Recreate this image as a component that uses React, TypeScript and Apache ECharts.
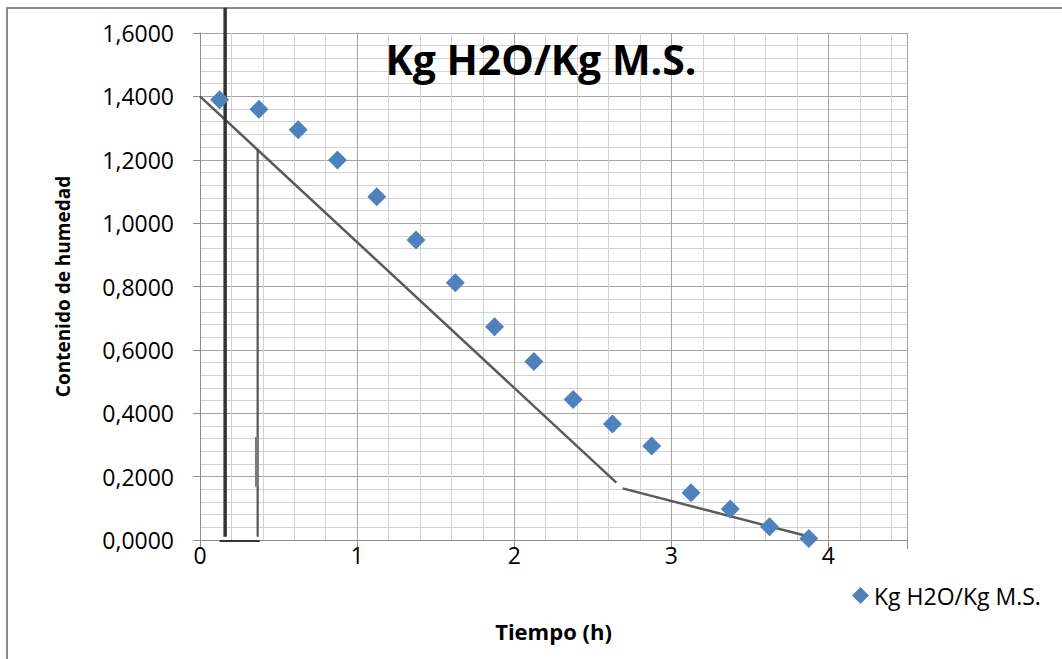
import React, { useEffect, useRef } from "react";
import * as echarts from "echarts";

const tiempo = [0.125, 0.375, 0.625, 0.875, 1.125, 1.375, 1.625, 1.875, 2.125, 2.375, 2.625, 2.875, 3.125, 3.375, 3.625, 3.875];
const humedad = [1.389, 1.359, 1.295, 1.199, 1.083, 0.947, 0.812, 0.673, 0.563, 0.443, 0.366, 0.297, 0.149, 0.098, 0.042, 0.005];

const lineaDescenso1 = [[0, 1.4], [2.65, 0.181]];
const lineaDescenso2 = [[2.69, 0.163], [3.85, 0.014]];
const verticalA = [[0.16, 1.68], [0.16, 0.01]];
const verticalB = [[0.367, 1.235], [0.367, 0.01]];
const verticalBGrueso = [[0.361, 0.325], [0.361, 0.168]];
const horizontalBase = [[0.125, -0.003], [0.38, -0.003]];

const yTicks = [0, 0.2, 0.4, 0.6, 0.8, 1.0, 1.2, 1.4, 1.6];
const xTicks = [0, 1, 2, 3, 4];

const seriesName = "Kg H2O/Kg M.S.";
const titleText = "Kg H2O/Kg M.S.";
const font = "'Open Sans', Lato, 'DejaVu Sans', sans-serif";

export default function App() {
  const ref = useRef<HTMLDivElement>(null);
  useEffect(() => {
    document.body.style.margin = "0";
    const chart = echarts.init(ref.current!, undefined, { renderer: "svg" });
    const lineStyleSeries = (name: string, data: number[][], color: string, width: number, z = 3) => ({
      name,
      type: "line",
      data,
      showSymbol: false,
      symbol: "none",
      clip: false,
      z,
      lineStyle: { color, width },
      silent: true,
      xAxisIndex: 1,
      yAxisIndex: 1,
    });
    chart.setOption({
      animation: false,
      backgroundColor: "#ffffff",
      textStyle: { fontFamily: font },
      title: {
        text: titleText,
        left: 536,
        top: 33,
        textAlign: "center",
        textStyle: { fontFamily: font, fontWeight: "bold", fontSize: 41, color: "#000" },
      },
      legend: {
        show: true,
        data: [{ name: seriesName, icon: "diamond" }],
        left: 847,
        top: 579,
        itemWidth: 17,
        itemHeight: 17,
        itemGap: 4,
        textStyle: { fontFamily: font, fontSize: 23, color: "#000" },
      },
      grid: { left: 200, top: 33, right: 155, bottom: 119, containLabel: false },
      graphic: [
        { type: "line", shape: { x1: 7, y1: 8, x2: 1062, y2: 8 }, style: { stroke: "#8c8c8c", lineWidth: 2 } },
        { type: "line", shape: { x1: 7, y1: 7, x2: 7, y2: 659 }, style: { stroke: "#8c8c8c", lineWidth: 2 } },
      ],
      xAxis: [
        {
          type: "value",
          min: 0,
          max: 4.5,
          interval: 0.2,
          axisLine: { show: false },
          axisTick: { show: false },
          axisLabel: { show: false },
          splitLine: { show: true, lineStyle: { color: "#d2d2d2", width: 1 } },
        },
        {
          type: "value",
          min: 0,
          max: 4.5,
          interval: 1,
          position: "bottom",
          name: "Tiempo (h)",
          nameLocation: "middle",
          nameGap: 80,
          nameTextStyle: { fontFamily: font, fontWeight: "bold", fontSize: 22, color: "#000" },
          axisLine: { show: true, onZero: false, lineStyle: { color: "#8c8c8c", width: 1 } },
          axisTick: { show: true, length: 9, lineStyle: { color: "#8c8c8c" } },
          axisLabel: {
            fontFamily: font,
            fontSize: 23,
            color: "#000",
            margin: 3,
            formatter: (v: number) => (xTicks.indexOf(v) >= 0 ? String(v) : ""),
          },
          splitLine: { show: true, lineStyle: { color: "#a3a3a3", width: 1 } },
        },
      ],
      yAxis: [
        {
          type: "value",
          min: 0,
          max: 1.6,
          interval: 0.04,
          axisLine: { show: false },
          axisTick: { show: false },
          axisLabel: { show: false },
          splitLine: { show: true, lineStyle: { color: "#d2d2d2", width: 1 } },
        },
        {
          type: "value",
          min: 0,
          max: 1.6,
          interval: 0.2,
          position: "left",
          name: "Contenido de humedad",
          nameLocation: "middle",
          nameGap: 128,
          nameRotate: 90,
          nameTextStyle: { fontFamily: font, fontWeight: "bold", fontSize: 19, color: "#000" },
          axisLine: { show: true, lineStyle: { color: "#8c8c8c", width: 1 } },
          axisTick: { show: true, length: 7, lineStyle: { color: "#8c8c8c" } },
          axisLabel: {
            fontFamily: font,
            fontSize: 23,
            color: "#000",
            margin: 26,
            formatter: (v: number) => {
              const match = yTicks.find((t) => Math.abs(t - v) < 1e-6);
              return match === undefined ? "" : match.toFixed(4).replace(".", ",");
            },
          },
          splitLine: { show: true, lineStyle: { color: "#a3a3a3", width: 1 } },
        },
      ],
      series: [
        lineStyleSeries("desc1", lineaDescenso1, "#5a5a5a", 2.5),
        lineStyleSeries("desc2", lineaDescenso2, "#5a5a5a", 2.5),
        lineStyleSeries("vertA", verticalA, "#333333", 3.5),
        lineStyleSeries("vertB", verticalB, "#555555", 2.2),
        lineStyleSeries("vertB2", verticalBGrueso, "#7a7a7a", 3.5),
        lineStyleSeries("horiz", horizontalBase, "#333333", 2),
        {
          name: seriesName,
          type: "scatter",
          xAxisIndex: 1,
          yAxisIndex: 1,
          symbol: "diamond",
          symbolSize: 19,
          itemStyle: { color: "#4f81bd", opacity: 1 },
          data: tiempo.map((t, i) => [t, humedad[i]]),
          z: 5,
        },
      ],
    });
    return () => chart.dispose();
  }, []);
  return <div ref={ref} style={{ width: 1062, height: 659 }} />;
}
